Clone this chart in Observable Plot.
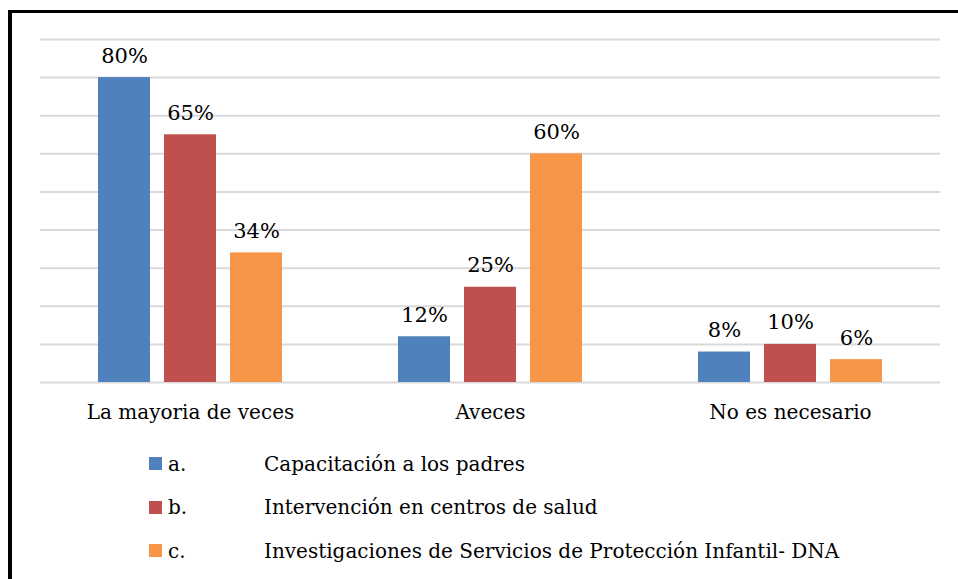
<!DOCTYPE html>
<html>
<head>
<meta charset="utf-8">
<script src="https://cdn.jsdelivr.net/npm/d3@7"></script>
<script src="https://cdn.jsdelivr.net/npm/@observablehq/plot@0.6"></script>
<style>
  html, body { margin: 0; padding: 0; background: #fff; width: 958px; height: 579px; overflow: hidden; position: relative; }
  #chart { position: absolute; left: 0; top: 0; }
  .frame { position: absolute; left: 8px; top: 10px; width: 946px; height: 566px; border-top: 3px solid #000; border-left: 4px solid #000; pointer-events: none; }
  #legend { position: absolute; left: 149px; top: 442px; font-family: "DejaVu Serif", serif; font-size: 20px; color: #000; }
  .row { height: 43.5px; display: flex; align-items: center; }
  .sw { width: 13px; height: 13px; margin-right: 6px; }
  .letter { width: 96px; }
</style>
</head>
<body>
<div id="chart"></div>
<div class="frame"></div>
<div id="legend"></div>
<script>
const categories = ["La mayoria de veces", "Aveces", "No es necesario"];
const seriesKeys = ["a.", "b.", "c."];
const seriesNames = [
  "Capacitación a los padres",
  "Intervención en centros de salud",
  "Investigaciones de Servicios de Protección Infantil- DNA"
];
const seriesColors = ["#4f81bd", "#c0504d", "#f79646"];
const valuesA = [80, 12, 8];
const valuesB = [65, 25, 10];
const valuesC = [34, 60, 6];
const gridTicks = [0, 10, 20, 30, 40, 50, 60, 70, 80, 90];

const allValues = [valuesA, valuesB, valuesC];
const data = [];
categories.forEach((c, i) => {
  seriesKeys.forEach((s, j) => data.push({category: c, series: s, value: allValues[j][i]}));
});

const font = "DejaVu Serif, serif";
const plot = Plot.plot({
  width: 958,
  height: 430,
  marginTop: 39,
  marginLeft: 40,
  marginRight: 18,
  marginBottom: 48,
  style: {fontFamily: font, fontSize: "20px", color: "#000", background: "transparent"},
  fx: {domain: categories, padding: 0, label: null},
  x: {domain: seriesKeys, paddingInner: 0.21, paddingOuter: 0.85, axis: null},
  y: {domain: [0, 90], axis: null},
  color: {domain: seriesKeys, range: seriesColors},
  marks: [
    Plot.gridY(gridTicks, {stroke: "#d9d9d9", strokeOpacity: 1, strokeWidth: 2}),
    Plot.barY(data, {fx: "category", x: "series", y: "value", fill: "series"}),
    Plot.text(data, {fx: "category", x: "series", y: "value", text: d => d.value + "%", lineAnchor: "bottom", dy: -15, fontSize: 21, fill: "#000"}),
    Plot.axisFx({anchor: "bottom", tickSize: 0, tickPadding: 22, fontSize: 20, label: null, fill: "#000"})
  ]
});
document.getElementById("chart").appendChild(plot);

const legend = document.getElementById("legend");
seriesKeys.forEach((k, i) => {
  const row = document.createElement("div");
  row.className = "row";
  row.innerHTML = `<span class="sw" style="background:${seriesColors[i]}"></span><span class="letter">${k}</span><span>${seriesNames[i]}</span>`;
  legend.appendChild(row);
});
</script>
</body>
</html>
